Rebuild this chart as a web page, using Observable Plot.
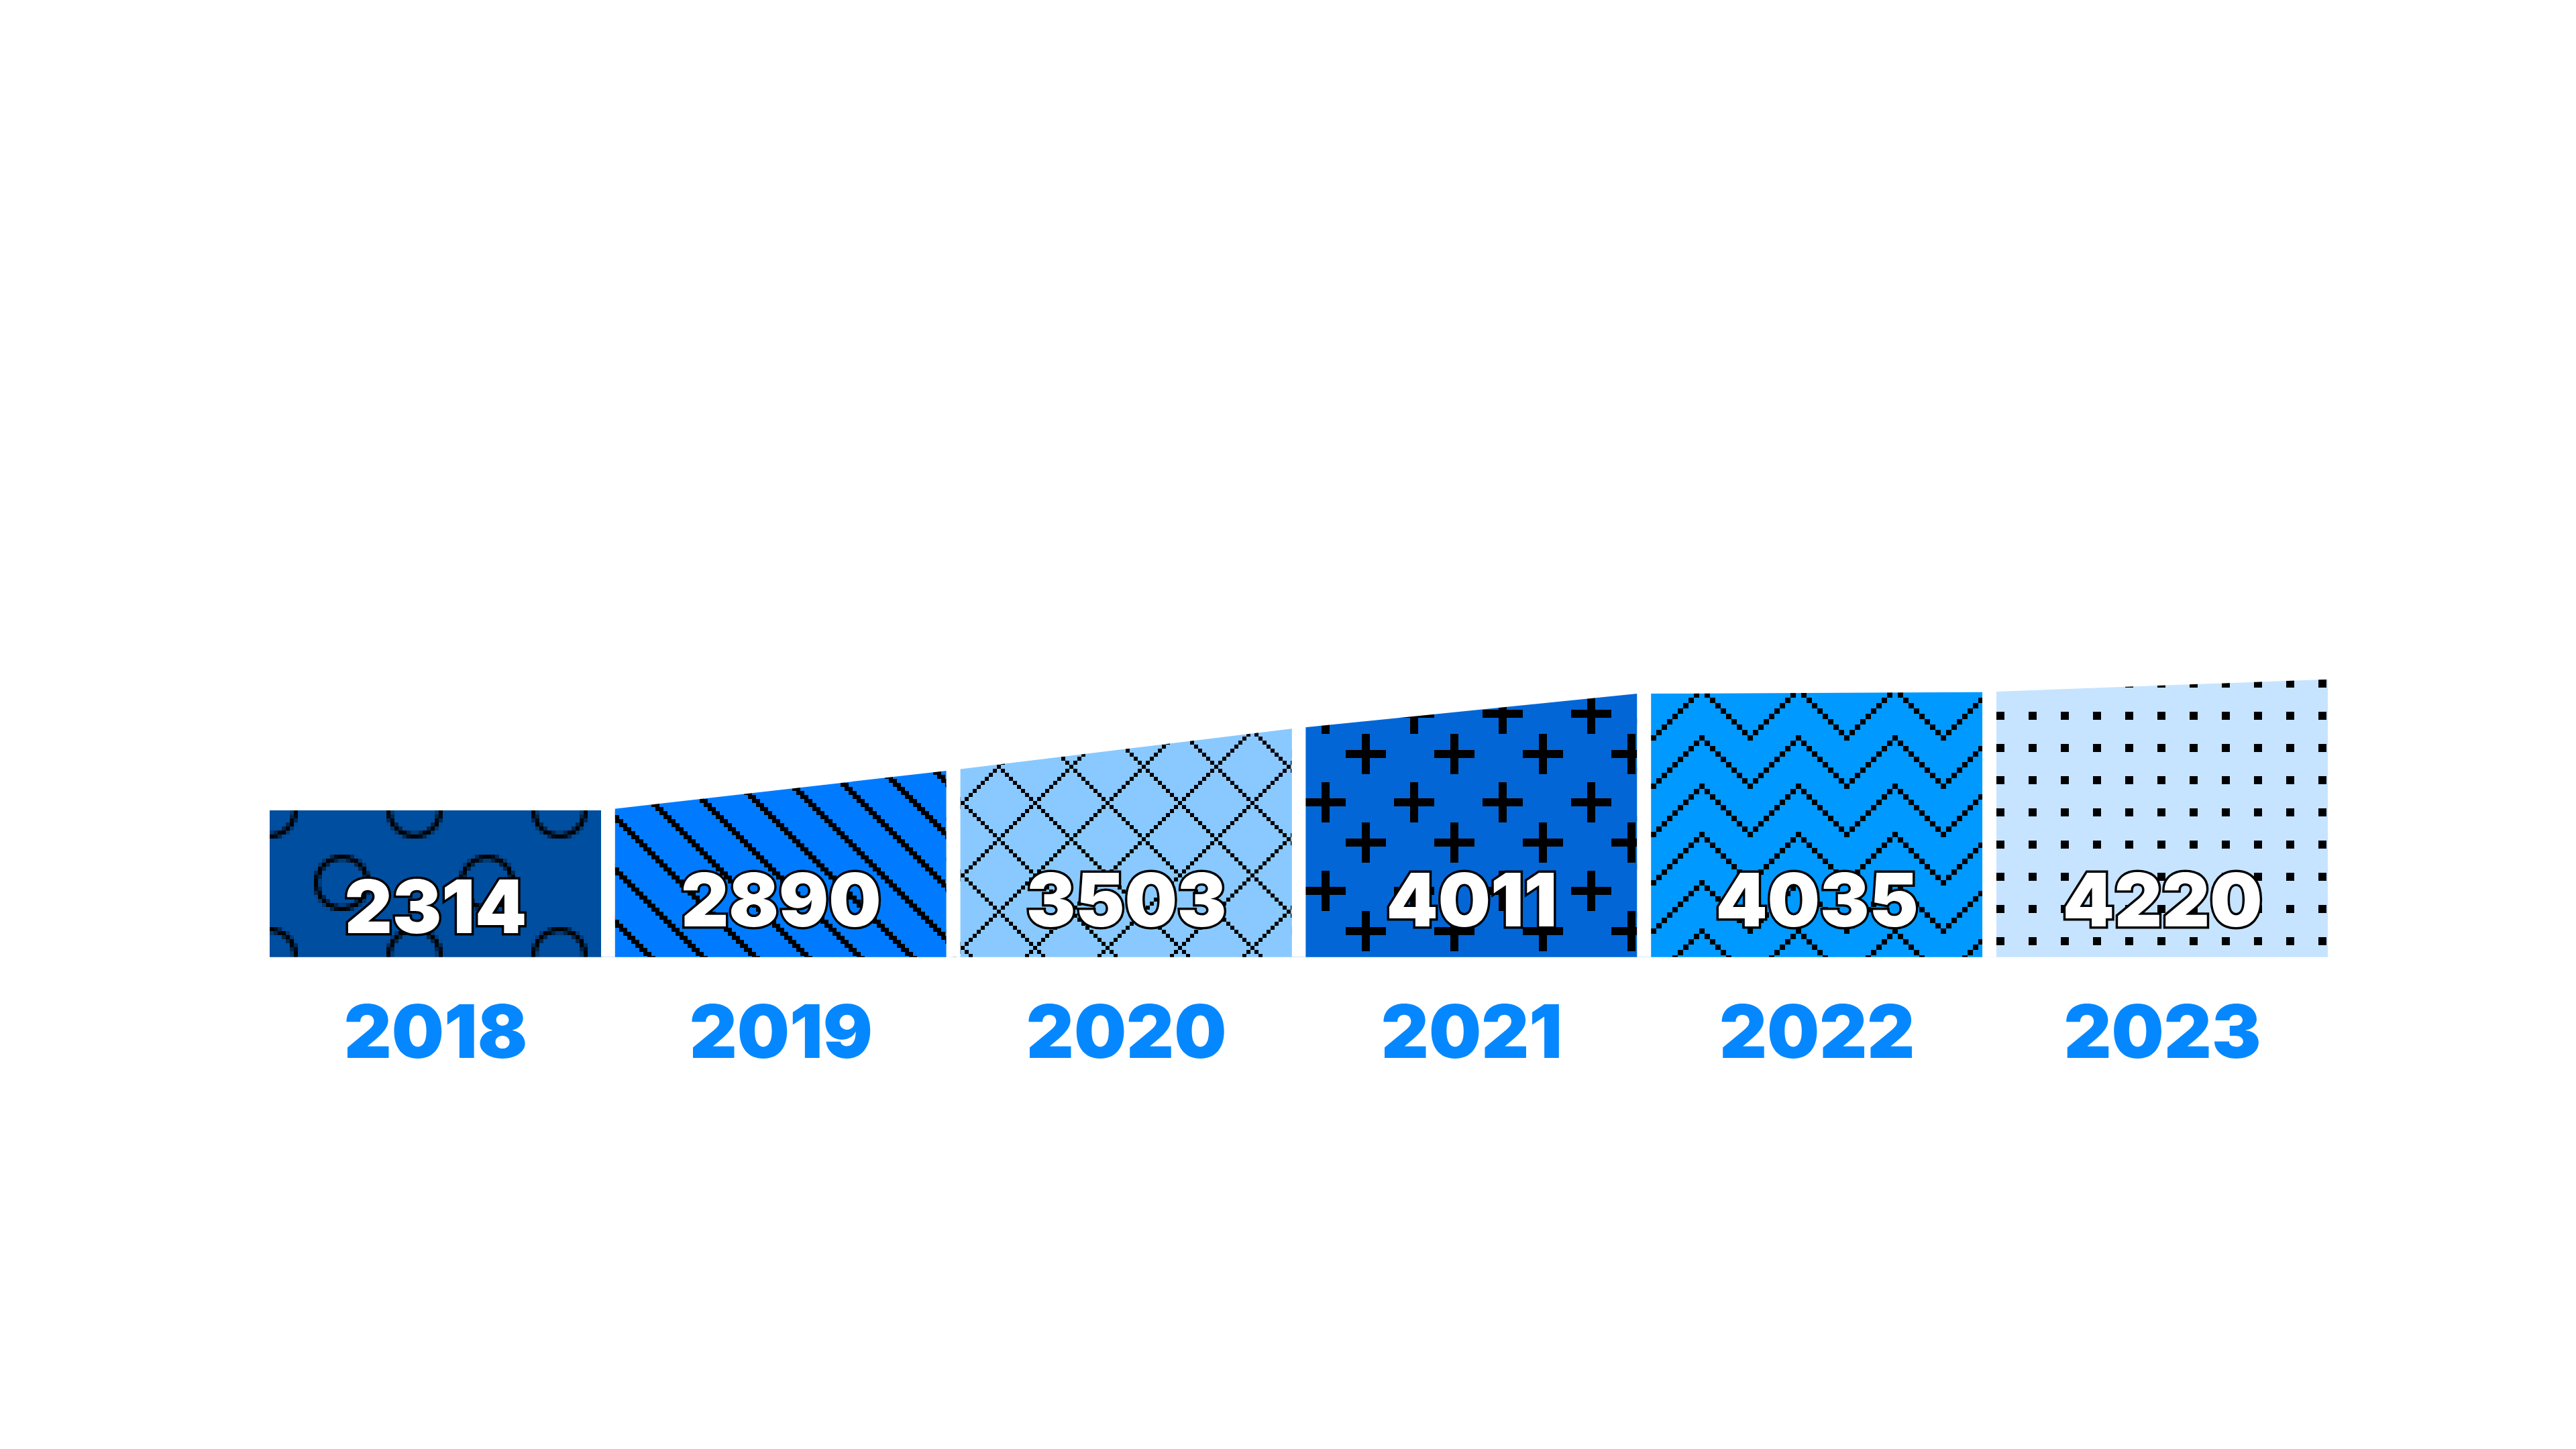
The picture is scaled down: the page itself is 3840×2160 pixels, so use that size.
<!DOCTYPE html>
<html><head><meta charset="utf-8">
<script src="https://cdn.jsdelivr.net/npm/d3@7"></script>
<script src="https://cdn.jsdelivr.net/npm/@observablehq/plot@0.6"></script>
<style>html,body{margin:0;padding:0;background:#fff;} #chart svg{display:block}</style>
</head><body><div id="chart"></div>
<script>
// ---- data ----
const years = [2018, 2019, 2020, 2021, 2022, 2023];
const values = [2314, 2890, 3503, 4011, 4035, 4220];
const colors = ["#004e9f", "#007bff", "#89c9ff", "#0366d6", "#0099ff", "#c6e4ff"];
const patterns = ["circles", "diagonal", "crosshatch", "plus", "zigzag", "dots"];

// ---- layout constants ----
const W = 3840, H = 2160;
const BAR = 494 / 514.8;           // bar share of each slot
const FS = 110;                     // label font size
const BOTTOM = 1426.7;              // frame bottom (bar baseline)

// table for the areas: each year's top edge runs from the previous value to its own value
const areaData = [];
years.forEach((yr, i) => {
  const prev = i === 0 ? values[0] : values[i - 1];
  areaData.push({year: yr, x: i === 0 ? 0 : i - 1 + BAR, v: prev});
  areaData.push({year: yr, x: i + BAR, v: values[i]});
});
const gaps = years.slice(0, -1).map((yr, i) => ({x1: i + BAR, x2: i + 1}));
const labels = years.map((yr, i) => ({year: yr, value: values[i], x: i + BAR / 2}));

const textCommon = {x: "x", frameAnchor: "bottom", lineAnchor: "bottom", fontSize: FS, fontWeight: 900,
  fontFamily: "Inter", letterSpacing: "1px"};

const chart = Plot.plot({
  width: W, height: H,
  marginLeft: 402, marginRight: W - (402 + 6 * 514.8), marginTop: 0, marginBottom: H - BOTTOM,
  x: {domain: [0, 6], axis: null},
  y: {domain: [0, 4220], range: [1445.1, 1012.7], axis: null},
  style: {background: "white"},
  marks: [
    ...years.map((yr) => Plot.areaY(areaData.filter(d => d.year === yr),
      {x: "x", y: "v", fill: `url(#pat-${yr})`, clip: true})),
    Plot.rect(gaps, {x1: "x1", x2: "x2", y1: 0, y2: 4400, fill: "white", clip: true}),
    Plot.text(labels.slice(0, 1), {...textCommon, dy: 1390 - BOTTOM,
      text: d => String(d.value), fill: "white", stroke: "black", strokeWidth: 7, strokeLinejoin: "miter"}),
    Plot.text(labels.slice(1), {...textCommon, dy: 1380 - BOTTOM,
      text: d => String(d.value), fill: "white", stroke: "black", strokeWidth: 7, strokeLinejoin: "miter"}),
    Plot.text(labels, {...textCommon, dy: 1576 - BOTTOM,
      text: d => String(d.year), fill: "#0588ff"})
  ]
});

// ---- pixel patterns ----
const ns = "http://www.w3.org/2000/svg";
const defs = document.createElementNS(ns, "defs");
const mod = (a, n) => ((a % n) + n) % n;
const R = 6.33;
const circleCenters = [[0,0],[36,0],[0,36],[36,36],[18,18]];
const specs = {
  circles: {unit: 6, tw: 36, th: 36, ink: (px, py) => {
    let hits = 0; const n = 5;
    for (let sy = 0; sy < n; sy++) for (let sx = 0; sx < n; sx++) {
      const X = px + (sx + 0.5) / n, Y = py + (sy + 0.5) / n;
      for (const [cx, cy] of circleCenters) {
        if (Math.abs(Math.hypot(X - cx, Y - cy) - R) <= 0.55) { hits++; break; }
      }
    }
    return Math.min(1, 1.2 * hits / (n * n));
  }},
  diagonal: {unit: 6, tw: 13, th: 13, ink: (px, py) => { const m = mod(py - px, 13); return (m === 11 || m === 12) ? 1 : 0; }},
  crosshatch: {unit: 6, tw: 18, th: 18, ink: (px, py) => (mod(px - py, 18) === 0 || mod(px + py, 18) === 0) ? 1 : 0},
  plus: {unit: 6, tw: 22, th: 22, ink: (px, py) => {
    for (const c of [5, 15]) {
      const dx = mod(px - c + 11, 22) - 11, dy = mod(py - c + 11, 22) - 11;
      if ((dx >= -5 && dx < 5 && dy >= -1 && dy < 1) || (dy >= -5 && dy < 5 && dx >= -1 && dx < 1)) return 1;
    }
    return 0;
  }},
  zigzag: {unit: 8, tw: 18, th: 9, ink: (px, py) => mod(py, 9) === mod(8 + Math.abs(px - 9), 9) ? 1 : 0},
  dots: {unit: 6, tw: 8, th: 8, ink: (px, py) => (px < 2 && py < 2) ? 1 : 0}
};

const sx = chart.scale("x"), sy = chart.scale("y");
years.forEach((yr, i) => {
  const s = specs[patterns[i]];
  const x0 = Math.round(sx.apply(i));
  const y0 = Math.round(sy.apply(Math.max(values[i], i ? values[i - 1] : values[i])));
  const p = document.createElementNS(ns, "pattern");
  p.setAttribute("id", `pat-${yr}`);
  p.setAttribute("patternUnits", "userSpaceOnUse");
  p.setAttribute("x", x0); p.setAttribute("y", y0);
  p.setAttribute("width", s.tw * s.unit); p.setAttribute("height", s.th * s.unit);
  const bg = document.createElementNS(ns, "rect");
  bg.setAttribute("width", s.tw * s.unit); bg.setAttribute("height", s.th * s.unit);
  bg.setAttribute("fill", colors[i]);
  p.appendChild(bg);
  const g = document.createElementNS(ns, "g");
  g.setAttribute("shape-rendering", "crispEdges");
  let full = "";
  for (let py = 0; py < s.th; py++) for (let px = 0; px < s.tw; px++) {
    const a = s.ink(px, py);
    if (a >= 0.99) full += `M${px * s.unit},${py * s.unit}h${s.unit}v${s.unit}h${-s.unit}z`;
    else if (a > 0.04) {
      const r = document.createElementNS(ns, "rect");
      r.setAttribute("x", px * s.unit); r.setAttribute("y", py * s.unit);
      r.setAttribute("width", s.unit); r.setAttribute("height", s.unit);
      r.setAttribute("fill", "#000"); r.setAttribute("fill-opacity", a.toFixed(3));
      g.appendChild(r);
    }
  }
  if (full) {
    const path = document.createElementNS(ns, "path");
    path.setAttribute("d", full); path.setAttribute("fill", "#000");
    g.appendChild(path);
  }
  p.appendChild(g);
  defs.appendChild(p);
});
chart.insertBefore(defs, chart.firstChild);
document.getElementById("chart").appendChild(chart);
</script>
</body></html>
